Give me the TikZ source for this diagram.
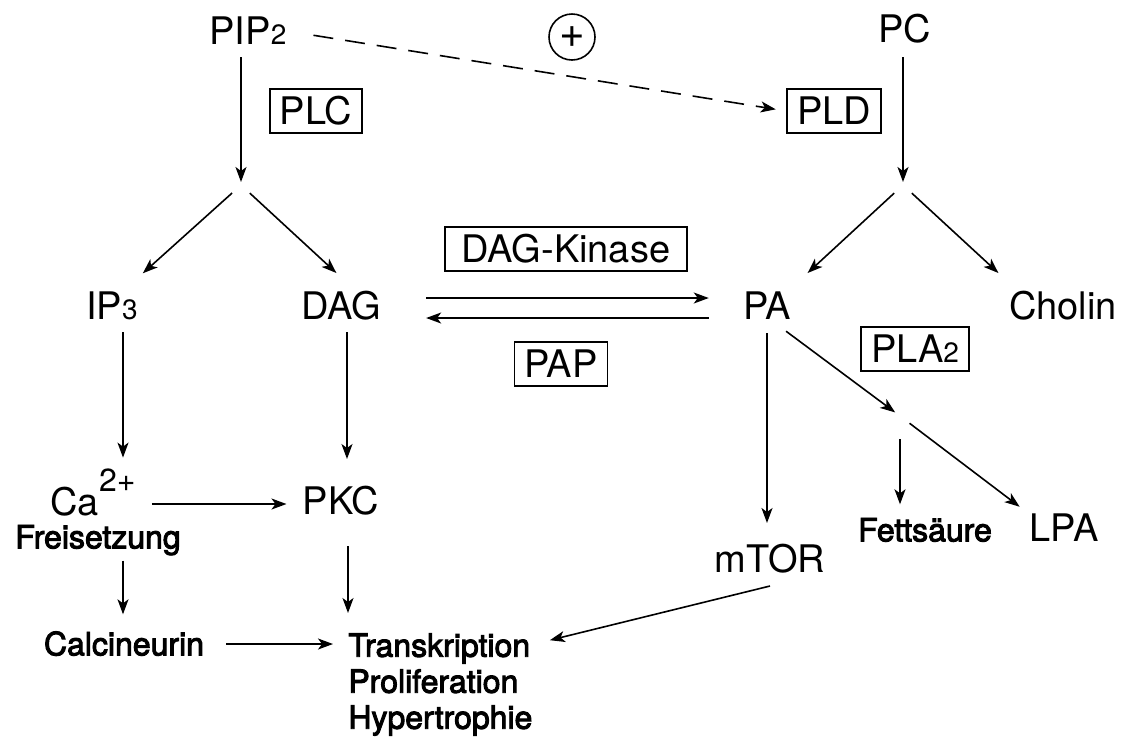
\documentclass[tikz,border=0pt]{standalone}
\usepackage{fontspec}
\setmainfont{TeX Gyre Heros}
\newfontfamily\medfont{TeX Gyre Heros}[FakeBold=3]
\usetikzlibrary{arrows.meta}
\newcommand{\idx}[1]{{\fontsize{14}{14}\selectfont #1}}
\newcommand{\supidx}[1]{{\fontsize{16}{16}\selectfont #1}}
\tikzset{
	mol/.style={font=\fontsize{19}{22}\selectfont, inner sep=0pt, text height=13.6pt, text depth=0pt},
	smallmol/.style={font=\medfont\fontsize{16}{18}\selectfont, inner sep=0pt, text height=11.3pt, text depth=0pt},
	enz/.style={draw, line width=0.8pt, font=\fontsize{19}{22}\selectfont, inner xsep=5pt, inner ysep=0pt, text height=13.6pt, text depth=0pt, minimum height=22pt},
	arr/.style={-{Stealth[length=7.5pt,width=5.5pt,inset=2pt]}, line width=0.8pt}
}
\begin{document}
\begin{tikzpicture}[x=0.5pt,y=-0.5pt]
	\useasboundingbox (0,0) rectangle (1125,736);
	\node[mol] (pip) at (248,31) {PIP\idx{2}};
	\node[mol] (pc) at (905,29) {PC};
	\node[circle, draw, line width=0.8pt, minimum size=23pt, inner sep=0pt, font=\fontsize{22}{22}\selectfont] (plus) at (572,37) {+};
	\node[enz] (plc) at (316,111) {PLC};
	\node[enz] (pld) at (834,111) {PLD};
	\coordinate (plsplit) at (241,185);
	\coordinate (prsplit) at (903,185);
	\node[mol] (ip) at (112,306) {IP\idx{3}};
	\node[mol] (dag) at (341,306) {DAG};
	\node[mol] (pa) at (767,306) {PA};
	\node[mol] (cholin) at (1063,306) {Cholin};
	\node[enz, minimum width=121pt] (dagk) at (566,249) {DAG-Kinase};
	\node[enz] (pap) at (561,364) {PAP};
	\node[enz] (pla) at (915,349) {PLA\idx{2}};
	\node[mol, text height=20pt] (ca) at (93,495) {Ca\raisebox{12pt}{\supidx{2+}}};
	\node[smallmol] (freis) at (98,537) {Freisetzung};
	\node[mol] (pkc) at (341,501) {PKC};
	\node[smallmol] (calc) at (124,644) {Calcineurin};
	\node[font=\medfont\fontsize{16}{18}\selectfont, align=left, inner sep=0pt, anchor=north west] (trans) at (348,633) {Transkription\\Proliferation\\Hypertrophie};
	\node[mol] (mtor) at (770,559) {mTOR};
	\coordinate (plasplit) at (900,416);
	\node[smallmol] (fett) at (925,530) {Fettsäure};
	\node[mol] (lpa) at (1064,528) {LPA};

	\draw[arr, dash pattern=on 10pt off 6pt, shorten <=13.5pt, shorten >=5.3pt] (pip.east) -- (pld.west);
	\draw[arr, shorten <=6pt, shorten >=1.5pt] (pip.south -| plsplit) -- (plsplit);
	\draw[arr, shorten <=7pt, shorten >=1.5pt] (pc.south -| prsplit) -- (prsplit);
	\draw[arr, shorten <=6pt, shorten >=14pt] (plsplit) -- ([xshift=5pt]ip.north);
	\draw[arr, shorten <=6pt, shorten >=14pt] (plsplit) -- ([xshift=8pt]dag.north);
	\draw[arr, shorten <=6pt, shorten >=14pt] (prsplit) -- ([xshift=10pt]pa.north);
	\draw[arr, shorten <=6pt, shorten >=14pt] (prsplit) -- ([xshift=-22pt]cholin.north);
	\draw[arr, shorten <=22.5pt, shorten >=17pt] ([yshift=4pt]dag.east) -- ([yshift=4pt]pa.west);
	\draw[arr, shorten <=17pt, shorten >=22.5pt] ([yshift=-6pt]pa.west) -- ([yshift=-6pt]dag.east);
	\draw[arr, shorten <=6pt, shorten >=8.5pt] ([xshift=5.5pt]ip.south) -- ([xshift=5.5pt]ip.south |- ca.north);
	\draw[arr, shorten <=6pt, shorten >=14pt] ([xshift=3pt]dag.south) -- ([xshift=3pt]dag.south |- pkc.north);
	\draw[arr, shorten <=8pt, shorten >=8pt] ([yshift=-1.5pt]ca.east |- pkc.west) -- ([yshift=-1.5pt]pkc.west);
	\draw[arr, shorten <=6pt, shorten >=9pt] ([xshift=12.5pt]freis.south) -- ([xshift=12.5pt]freis.south |- calc.north);
	\draw[arr, shorten <=15.5pt, shorten >=10pt] ([xshift=3.5pt]pkc.south) -- ([xshift=3.5pt]pkc.south |- trans.north);
	\draw[arr, shorten <=11pt, shorten >=7.5pt] (calc.east) -- (calc.east -| trans.west);
	\draw[arr, shorten <=6.5pt, shorten >=11pt] (pa.south) -- (pa.south |- mtor.north);
	\draw[arr, shorten >=8.8pt] ([yshift=-6.5pt]mtor.south) -- ([yshift=-5.7pt]trans.north east);
	\draw[arr, shorten <=9.4pt, shorten >=3pt] ([xshift=2pt]pa.south) -- (plasplit);
	\draw[arr, shorten <=6pt, shorten >=6pt] (plasplit) -- (lpa.north west);
	\draw[arr, shorten <=11.5pt, shorten >=7pt] (plasplit) -- (plasplit |- fett.north);
\end{tikzpicture}
\end{document}
